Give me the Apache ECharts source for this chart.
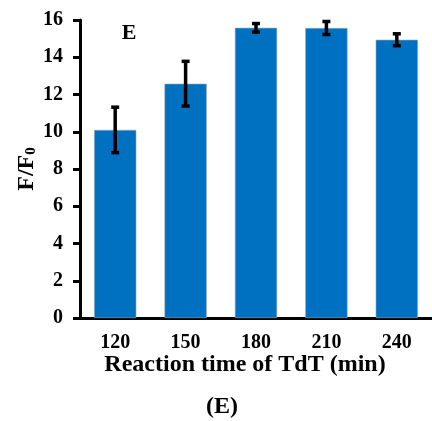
<!DOCTYPE html>
<html lang="en">
<head>
  <meta charset="UTF-8">
  <title>F/F0 vs reaction time</title>
  <script src="https://cdn.jsdelivr.net/npm/echarts@6/dist/echarts.min.js"></script>
  <style>
    html, body { margin: 0; padding: 0; background: #fff; }
    #chart { width: 432px; height: 421px; }
  </style>
</head>
<body>
  <div id="chart"></div>
  <script>
    // data
    var categories = ['120', '150', '180', '210', '240']
    var values = [10.1, 12.58, 15.58, 15.57, 14.94]
    var errors = [1.22, 1.2, 0.23, 0.35, 0.32]
    var yTicks = [0, 2, 4, 6, 8, 10, 12, 14, 16]

    var serif = 'Liberation Serif'
    var myChart = echarts.init(document.getElementById('chart'))

    var errData = values.map(function (v, i) {
      return [i, v - errors[i], v + errors[i]]
    })

    var option = {
      animation: false,
      grid: { left: 80, right: -6, top: 20, bottom: 103 },
      xAxis: {
        type: 'category',
        data: categories,
        axisLine: { lineStyle: { color: '#000', width: 3 } },
        axisTick: { alignWithLabel: true, length: 6, lineStyle: { color: '#000', width: 3 } },
        axisLabel: { color: '#000', fontFamily: serif, fontWeight: 'bold', fontSize: 20, margin: 15 }
      },
      yAxis: {
        type: 'value',
        min: yTicks[0],
        max: yTicks[yTicks.length - 1],
        interval: 2,
        splitLine: { show: false },
        axisLine: { show: true, lineStyle: { color: '#000', width: 3 } },
        axisTick: { show: true, length: 7, lineStyle: { color: '#000', width: 3 } },
        axisLabel: { color: '#000', fontFamily: serif, fontWeight: 'bold', fontSize: 20, margin: 17 },
        name: '{a|F/F}{b|0}',
        nameLocation: 'middle',
        nameGap: 41,
        nameMoveOverlap: false,
        nameTextStyle: {
          rich: {
            a: { fontFamily: serif, fontWeight: 'bold', fontSize: 24, color: '#000' },
            b: { fontFamily: serif, fontWeight: 'bold', fontSize: 15, color: '#000', verticalAlign: 'bottom', padding: [9, 0, 0, 0] }
          }
        }
      },
      graphic: [
        {
          type: 'text', x: 129, y: 33,
          style: { text: 'E', font: 'bold 22px "Liberation Serif"', fill: '#000', align: 'center', verticalAlign: 'middle' }
        },
        {
          type: 'text', x: 245, y: 365,
          style: { text: 'Reaction time of TdT (min)', font: 'bold 24px "Liberation Serif"', fill: '#000', align: 'center', verticalAlign: 'middle' }
        },
        {
          type: 'text', x: 222, y: 407,
          style: { text: '(E)', font: 'bold 24px "Liberation Serif"', fill: '#000', align: 'center', verticalAlign: 'middle' }
        }
      ],
      series: [
        {
          type: 'bar',
          data: values,
          barWidth: '60%',
          itemStyle: { color: '#0070C0', borderColor: '#9aaab8', borderWidth: 0.6 }
        },
        {
          type: 'custom',
          data: errData,
          z: 10,
          renderItem: function (params, api) {
            var x = api.value(0)
            var lo = api.coord([x, api.value(1)])
            var hi = api.coord([x, api.value(2)])
            var cap = 4
            var st = { stroke: '#000', lineWidth: 3.5 }
            return {
              type: 'group',
              children: [
                { type: 'line', shape: { x1: lo[0], y1: lo[1], x2: hi[0], y2: hi[1] }, style: st },
                { type: 'line', shape: { x1: lo[0] - cap, y1: lo[1], x2: lo[0] + cap, y2: lo[1] }, style: st },
                { type: 'line', shape: { x1: hi[0] - cap, y1: hi[1], x2: hi[0] + cap, y2: hi[1] }, style: st }
              ]
            }
          }
        }
      ]
    }
    myChart.setOption(option)
  </script>
</body>
</html>
